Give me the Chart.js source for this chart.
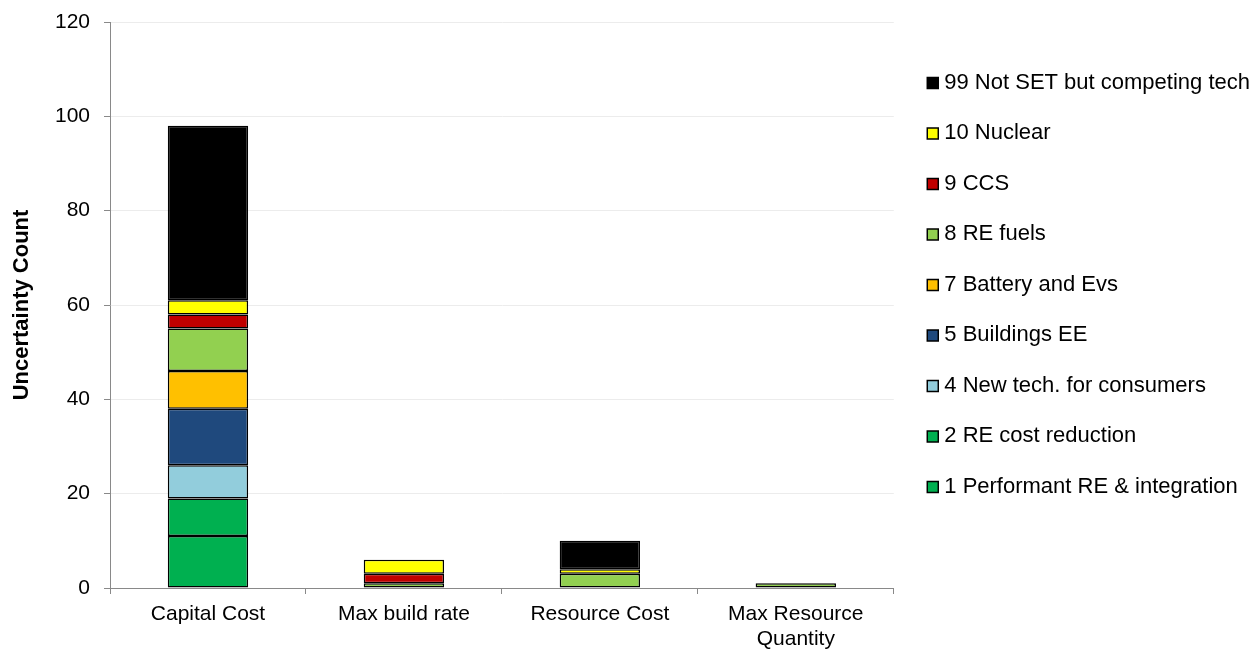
<!DOCTYPE html>
<html>
<head>
<meta charset="utf-8">
<title>Uncertainty Count</title>
<script src="https://cdn.jsdelivr.net/npm/chart.js@4"></script>
<style>
  body { margin: 0; background: #fff; }
  #wrap { width: 1260px; height: 652px; }
</style>
</head>
<body>
<div id="wrap"><canvas id="uncertainty-chart"></canvas></div>
<script>
// categories on the x axis
const categories = [
  "Capital Cost",
  "Max build rate",
  "Resource Cost",
  ["Max Resource", "Quantity"],
];

// stacked series, bottom to top
const performantRE = [11, null, null, null];
const reCostReduction = [8, null, null, null];
const newTechConsumers = [7, null, null, null];
const buildingsEE = [12, null, null, null];
const batteryEvs = [8, null, null, null];
const reFuels = [9, 1, 3, 1];
const ccs = [3, 2, null, null];
const nuclear = [3, 3, 1, null];
const competingTech = [37, null, 6, null];

const yTicks = [0, 20, 40, 60, 80, 100, 120];

function getColor(name) {
  if (name === "99 Not SET but competing tech") {
    return "#000000";
  }
  if (name === "10 Nuclear") {
    return "#FFFF00";
  }
  if (name === "9 CCS") {
    return "#C00000";
  }
  if (name === "8 RE fuels") {
    return "#92D050";
  }
  if (name === "7 Battery and Evs") {
    return "#FFC000";
  }
  if (name === "5 Buildings EE") {
    return "#1F497D";
  }
  if (name === "4 New tech. for consumers") {
    return "#92CDDC";
  }
  return "#00B050";
}

const series = [
  ["1 Performant RE & integration", performantRE],
  ["2 RE cost reduction", reCostReduction],
  ["4 New tech. for consumers", newTechConsumers],
  ["5 Buildings EE", buildingsEE],
  ["7 Battery and Evs", batteryEvs],
  ["8 RE fuels", reFuels],
  ["9 CCS", ccs],
  ["10 Nuclear", nuclear],
  ["99 Not SET but competing tech", competingTech],
];

// the legend sits a bit further right than the layout padding leaves it
const legendShift = {
  id: "legendShift",
  afterLayout(chart) {
    chart.legend.left += 10;
    chart.legend.right += 10;
  },
};

Chart.defaults.font.family = "'Liberation Sans', Arial, sans-serif";
Chart.defaults.color = "#000";

const canvas = document.querySelector("#uncertainty-chart");

new Chart(canvas.getContext("2d"), {
  type: "bar",
  data: {
    labels: categories,
    datasets: series.map(([name, values]) => ({
      label: name,
      data: values,
      backgroundColor: getColor(name),
      borderColor: "#000",
      borderWidth: 1.5,
      borderSkipped: false,
      categoryPercentage: 1,
      barPercentage: 0.41,
    })),
  },
  plugins: [legendShift],
  options: {
    responsive: true,
    maintainAspectRatio: false,
    animation: false,
    layout: {
      padding: { top: 22, right: 10, bottom: 0, left: 0 },
    },
    plugins: {
      tooltip: { enabled: false },
      legend: {
        position: "right",
        align: "start",
        reverse: true,
        maxWidth: 420,
        // empty title only pushes the entries down a little
        title: { display: true, text: "", font: { size: 12 }, padding: 3.5 },
        labels: {
          font: { size: 22 },
          color: "#000",
          padding: 28.5,
          usePointStyle: true,
          pointStyle: "rect",
          boxWidth: 1,
          boxHeight: 11,
        },
      },
    },
    scales: {
      x: {
        stacked: true,
        afterFit: (axis) => {
          axis.height = 64;
        },
        grid: {
          drawOnChartArea: false,
          drawTicks: true,
          tickLength: 6,
          tickColor: "#898989",
        },
        border: { color: "#898989", width: 1 },
        ticks: {
          font: { size: 21, lineHeight: 25 / 21 },
          padding: 7.5,
          maxRotation: 0,
          autoSkip: false,
        },
      },
      y: {
        stacked: true,
        min: 0,
        max: 120,
        afterBuildTicks: (axis) => {
          axis.ticks = yTicks.map((v) => ({ value: v }));
        },
        afterFit: (axis) => {
          axis.width = 110;
          axis.paddingTop = 0;
          axis.paddingBottom = 0;
        },
        grid: {
          color: "#ececec",
          tickColor: "#898989",
          tickLength: 6,
        },
        border: { color: "#898989", width: 1 },
        ticks: {
          font: { size: 21 },
          padding: 14,
        },
        title: {
          display: true,
          text: "Uncertainty Count",
          font: { size: 22, weight: "bold" },
          padding: { top: 9, bottom: 0 },
        },
      },
    },
  },
});
</script>
</body>
</html>
